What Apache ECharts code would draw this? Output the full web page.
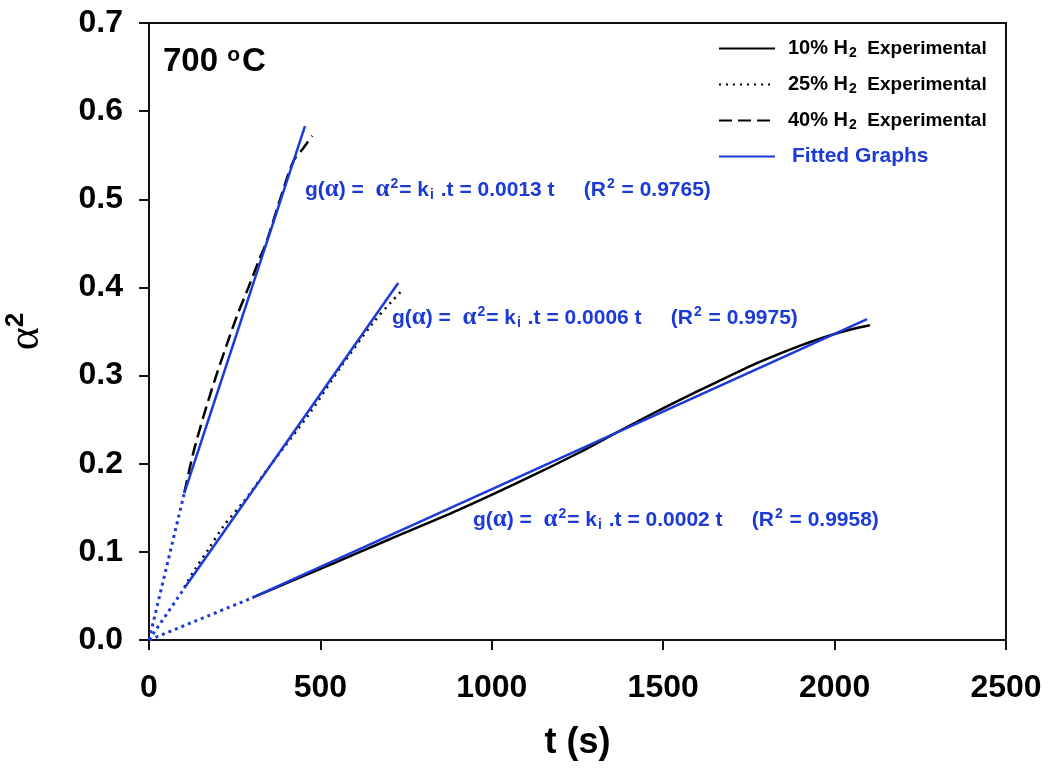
<!DOCTYPE html>
<html>
<head>
<meta charset="utf-8">
<script src="https://cdn.jsdelivr.net/npm/echarts@6/dist/echarts.min.js"></script>
<style>
html, body { margin: 0; padding: 0; background: #fff; }
#chart { width: 1051px; height: 772px; }
</style>
</head>
<body>
<div id="chart"></div>
<script>
// experimental curves, t (s) vs alpha^2
const t10 = [302, 538, 700, 900, 1100, 1257, 1350, 1450, 1549, 1650, 1782, 1900, 1986, 2050, 2103];
const a10 = [0.048, 0.087, 0.114, 0.147, 0.183, 0.213, 0.2325, 0.253, 0.2725, 0.2915, 0.3155, 0.334, 0.3455, 0.3525, 0.357];
const t25 = [103, 134, 175, 217, 280, 350, 470, 560, 650, 710, 737];
const a25 = [0.060, 0.080, 0.104, 0.129, 0.159, 0.196, 0.258, 0.310, 0.358, 0.385, 0.396];
const t40 = [103, 129, 160, 192, 225, 256, 290, 320, 343, 380, 421, 450, 476];
const a40 = [0.167, 0.212, 0.255, 0.295, 0.333, 0.367, 0.400, 0.430, 0.452, 0.497, 0.543, 0.558, 0.572];

// fitted lines (start / end) and the dotted part back to the origin
const fitT10 = [302, 2095], fitA10 = [0.048, 0.364];
const fitT25 = [103, 727],  fitA25 = [0.0587, 0.405];
const fitT40 = [103, 455],  fitA40 = [0.1667, 0.583];
const extT10 = [0, 302], extA10 = [0, 0.048];
const extT25 = [0, 103], extA25 = [0, 0.0587];
const extT40 = [0, 103], extA40 = [0, 0.1667];

const kValues = ['0.0002', '0.0006', '0.0013'];
const r2Values = ['0.9958', '0.9975', '0.9765'];
const legendNames = ['10% H2 Experimental', '25% H2 Experimental', '40% H2 Experimental', 'Fitted Graphs'];

const BLUE = '#1c3ad6';
const FONT = 'Liberation Sans, Arial, sans-serif';

const pairs = (xs, ys) => xs.map((x, i) => [x, ys[i]]);

const eqRich = {
  g: { fontSize: 21, fontWeight: 'bold', color: BLUE, fontFamily: FONT, lineHeight: 26 },
  al: { fontSize: 25, color: BLUE, fontFamily: 'Liberation Serif, serif', lineHeight: 26 },
  sup: { fontSize: 14, fontWeight: 'bold', color: BLUE, fontFamily: FONT, padding: [0, 1, 11, 1] },
  sub: { fontSize: 14, fontWeight: 'bold', color: BLUE, fontFamily: FONT, padding: [11, 1, 0, 1] }
};
const eqText = i => '{g|g(}{al|α}{g|) =  }{al|α}{sup|2}{g|= k}{sub|i}{g| .t = ' + kValues[i] +
  ' t     (R}{sup|2}{g| = ' + r2Values[i] + ')}';

const blackLine = (name, xs, ys, type) => ({
  name: name, type: 'line', data: pairs(xs, ys), symbol: 'none', smooth: 0.3,
  lineStyle: { color: '#000', width: 2.5, type: type }, itemStyle: { color: '#000' }, z: 2
});
const fitLine = (xs, ys) => ({
  name: 'Fitted Graphs', type: 'line', data: pairs(xs, ys), symbol: 'none',
  lineStyle: { color: BLUE, width: 2.5 }, itemStyle: { color: BLUE }, z: 3
});
const extLine = (name, xs, ys) => ({
  name: name, type: 'line', data: pairs(xs, ys), symbol: 'none',
  lineStyle: { color: BLUE, width: 3, type: [3, 4] }, itemStyle: { color: BLUE }, z: 3
});

const chart = echarts.init(document.getElementById('chart'));
chart.setOption({
  animation: false,
  backgroundColor: '#fff',
  grid: { left: 149, right: 45, top: 23, bottom: 132, show: true, borderColor: '#111', borderWidth: 2,
    containLabel: false, outerBoundsMode: 'none' },
  title: [
    {
      text: '{a|700 }{o|o}{a|C}', left: 163, top: 44, padding: 0,
      textStyle: { rich: {
        a: { fontSize: 33, fontWeight: 'bold', color: '#000', fontFamily: FONT, lineHeight: 36 },
        o: { fontSize: 21, fontWeight: 'bold', color: '#000', fontFamily: FONT, padding: [0, 2, 14, 0] }
      } }
    },
    { text: eqText(2), left: 305, top: 177, padding: 0, textStyle: { rich: eqRich } },
    { text: eqText(1), left: 392, top: 305, padding: 0, textStyle: { rich: eqRich } },
    { text: eqText(0), left: 473, top: 507, padding: 0, textStyle: { rich: eqRich } }
  ],
  legend: {
    data: legendNames,
    orient: 'vertical', left: 713, top: 32, itemWidth: 56, itemHeight: 14, itemGap: 13,
    itemStyle: { color: 'rgba(0,0,0,0)', borderWidth: 0 },
    formatter: name => name === 'Fitted Graphs'
      ? '{f|Fitted Graphs}'
      : '{p|}{a|' + name.slice(0, 5) + '}{s|2}{b|  Experimental}',
    textStyle: {
      lineHeight: 23,
      rich: {
        p: { width: 8 },
        a: { fontSize: 20, fontWeight: 'bold', color: '#000', fontFamily: FONT, lineHeight: 23 },
        s: { fontSize: 14, fontWeight: 'bold', color: '#000', fontFamily: FONT, padding: [9, 0, 0, 1] },
        b: { fontSize: 19, fontWeight: 'bold', color: '#000', fontFamily: FONT, lineHeight: 23 },
        f: { fontSize: 21, fontWeight: 'bold', color: BLUE, fontFamily: FONT, lineHeight: 23, padding: [0, 0, 0, 12] }
      }
    }
  },
  xAxis: {
    type: 'value', min: 0, max: 2500, interval: 500,
    name: 't (s)', nameLocation: 'middle', nameGap: 85,
    nameTextStyle: { fontSize: 36, fontWeight: 'bold', color: '#000', fontFamily: FONT },
    axisLine: { lineStyle: { color: '#111', width: 2 } },
    axisTick: { inside: false, length: 10, lineStyle: { color: '#111', width: 2 } },
    axisLabel: { fontSize: 32, fontWeight: 'bold', color: '#000', fontFamily: FONT, margin: 32,
      formatter: v => String(v) },
    splitLine: { show: false }
  },
  yAxis: {
    type: 'value', min: 0, max: 0.7, interval: 0.1,
    name: '{a|α}{s|2}', nameLocation: 'middle', nameGap: 100, nameRotate: 90,
    nameTextStyle: { rich: {
      a: { fontSize: 44, color: '#000', fontFamily: 'Liberation Serif, serif' },
      s: { fontSize: 26, fontWeight: 'bold', color: '#000', fontFamily: FONT, padding: [0, 0, 20, 0] }
    } },
    axisLine: { lineStyle: { color: '#111', width: 2 } },
    axisTick: { inside: false, length: 10, lineStyle: { color: '#111', width: 2 } },
    axisLabel: { fontSize: 32, fontWeight: 'bold', color: '#000', fontFamily: FONT, margin: 26,
      formatter: v => v.toFixed(1) },
    splitLine: { show: false }
  },
  series: [
    blackLine(legendNames[0], t10, a10, 'solid'),
    blackLine(legendNames[1], t25, a25, [2, 5]),
    blackLine(legendNames[2], t40, a40, [13, 6]),
    fitLine(fitT10, fitA10),
    fitLine(fitT25, fitA25),
    fitLine(fitT40, fitA40),
    extLine('ext10', extT10, extA10),
    extLine('ext25', extT25, extA25),
    extLine('ext40', extT40, extA40)
  ]
});
</script>
</body>
</html>
